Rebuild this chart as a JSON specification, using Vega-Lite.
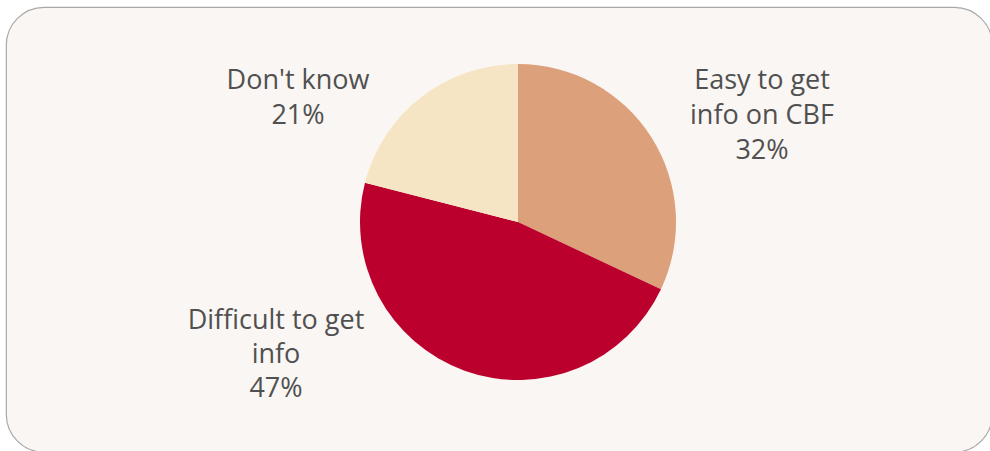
{
  "$schema": "https://vega.github.io/schema/vega-lite/v6.json",
  "width": 986,
  "height": 445,
  "autosize": {"type": "none"},
  "padding": {"left": 6, "top": 7, "right": 0, "bottom": 0},
  "background": "#FFFFFF",
  "view": {"fill": "#FAF6F3", "stroke": "#A8A8A8", "strokeWidth": 1.2, "cornerRadius": 38},
  "config": {
    "view": {"fill": "#FAF6F3", "stroke": "#A8A8A8", "strokeWidth": 1.2, "cornerRadius": 38},
    "style": {"view": {"fill": "#FAF6F3", "stroke": "#A8A8A8", "strokeWidth": 1.2, "cornerRadius": 38}}
  },
  "data": {
    "values": [
      {"category": "Easy to get info on CBF", "label": "Easy to get\ninfo on CBF\n32%", "value": 32, "rank": 1},
      {"category": "Difficult to get info", "label": "Difficult to get\ninfo\n47%", "value": 47, "rank": 2},
      {"category": "Don't know", "label": "Don't know\n21%", "value": 21, "rank": 3}
    ]
  },
  "transform": [
    {"stack": "value", "groupby": [], "sort": [{"field": "rank", "order": "ascending"}], "as": ["v0", "v1"]}
  ],
  "layer": [
    {
      "mark": {"type": "arc", "outerRadius": 158, "x": 512, "y": 215},
      "encoding": {
        "theta": {"field": "v0", "type": "quantitative", "scale": {"domain": [0, 100]}},
        "theta2": {"field": "v1"},
        "color": {
          "field": "category",
          "type": "nominal",
          "scale": {
            "domain": ["Easy to get info on CBF", "Difficult to get info", "Don't know"],
            "range": ["#DCA07A", "#BC002D", "#F5E5C4"]
          },
          "legend": null
        }
      }
    },
    {
      "transform": [{"filter": "datum.rank == 1"}],
      "mark": {"type": "text", "x": 512, "y": 215, "dx": 244, "dy": -141, "lineBreak": "\n", "lineHeight": 35, "font": "Open Sans", "fontSize": 27, "color": "#505050", "align": "center", "baseline": "middle"},
      "encoding": {"text": {"field": "label"}}
    },
    {
      "transform": [{"filter": "datum.rank == 2"}],
      "mark": {"type": "text", "x": 512, "y": 215, "dx": -242, "dy": 99, "lineBreak": "\n", "lineHeight": 34, "font": "Open Sans", "fontSize": 27, "color": "#505050", "align": "center", "baseline": "middle"},
      "encoding": {"text": {"field": "label"}}
    },
    {
      "transform": [{"filter": "datum.rank == 3"}],
      "mark": {"type": "text", "x": 512, "y": 215, "dx": -220, "dy": -141, "lineBreak": "\n", "lineHeight": 35, "font": "Open Sans", "fontSize": 27, "color": "#505050", "align": "center", "baseline": "middle"},
      "encoding": {"text": {"field": "label"}}
    }
  ]
}
